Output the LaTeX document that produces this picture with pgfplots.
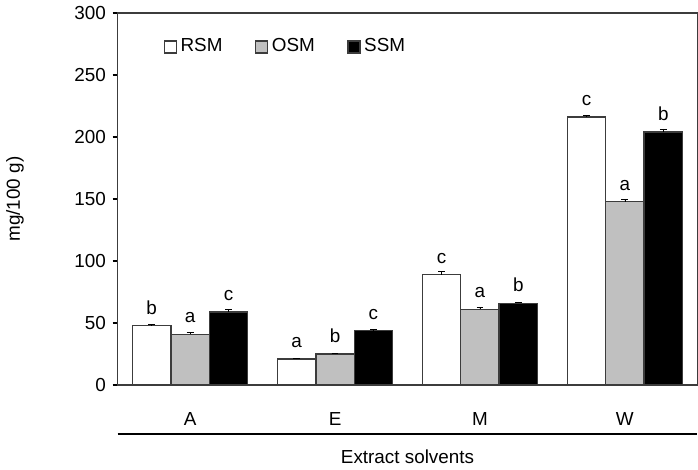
\documentclass[border=0pt]{standalone}
\usepackage{fontspec}
\setmainfont{Liberation Sans}
\usepackage{pgfplots}
\usepackage{pgfplotstable}
\pgfplotsset{compat=1.18}

% x position, mean, error, significance letter
\pgfplotstableread{
x y e lab
0 48 1.0 b
1 21 0.5 a
2 89 2.5 c
3 216 1.2 c
}\rsm
\pgfplotstableread{
x y e lab
0 41 1.5 a
1 25 0.5 b
2 61 2.0 a
3 148 1.5 a
}\osm
\pgfplotstableread{
x y e lab
0 59 2.0 c
1 44 1.0 c
2 66 1.0 b
3 204 2.5 b
}\ssm

\definecolor{barline}{RGB}{60,60,60}
\definecolor{midgray}{RGB}{192,192,192}

\begin{document}
\fontsize{11}{13.2}\selectfont
\begin{tikzpicture}
\begin{axis}[
  scale only axis,
  width=338pt, height=217pt,
  xmin=-0.5, xmax=3.5,
  ymin=0, ymax=300,
  ytick={0,50,...,300},
  ytick pos=left,
  xtick={0,1,2,3},
  xticklabels={A,E,M,W},
  x tick style={draw=none},
  xticklabel style={yshift=-9pt},
  y tick style={black, thick},
  tick align=outside,
  major tick length=3pt,
  axis line style={barline, thick},
  /pgf/number format/assume math mode=true,
  ybar=0pt,
  bar width=0.265,
  ylabel={mg/100 g)},
  ylabel style={at={(axis description cs:-0.177,0.5)}, anchor=center},
  xlabel={Extract solvents},
  xlabel style={at={(axis description cs:0.5,-0.155)}, anchor=north},
  legend style={draw=none, fill=none, legend columns=-1,
    at={(axis description cs:0.07,0.909)}, anchor=west,
    /tikz/every even column/.append style={column sep=17pt}},
  legend image code/.code={\draw[#1, draw=barline, thick] (0pt,-3.5pt) rectangle (7pt,3.5pt);},
  nodes near coords={\pgfplotspointmeta},
  point meta=explicit symbolic,
  nodes near coords style={yshift=2.5pt},
  error bars/error bar style={black, thin},
  error bars/error mark options={rotate=90, mark size=2pt, black, thin},
  clip=false,
]
\addplot[fill=white, draw=barline, thick, bar shift=-0.265,
  error bars/.cd, y dir=plus, y explicit]
  table[x=x, y=y, y error=e, meta=lab]{\rsm};
\addplot[fill=midgray, draw=barline, thick, bar shift=0,
  error bars/.cd, y dir=plus, y explicit]
  table[x=x, y=y, y error=e, meta=lab]{\osm};
\addplot[fill=black, draw=barline, thick, bar shift=0.265,
  error bars/.cd, y dir=plus, y explicit]
  table[x=x, y=y, y error=e, meta=lab]{\ssm};
\legend{RSM, OSM, SSM}
\draw[black, thick] (axis description cs:0,-0.131) -- (axis description cs:1,-0.131);
\end{axis}
\end{tikzpicture}
\end{document}
